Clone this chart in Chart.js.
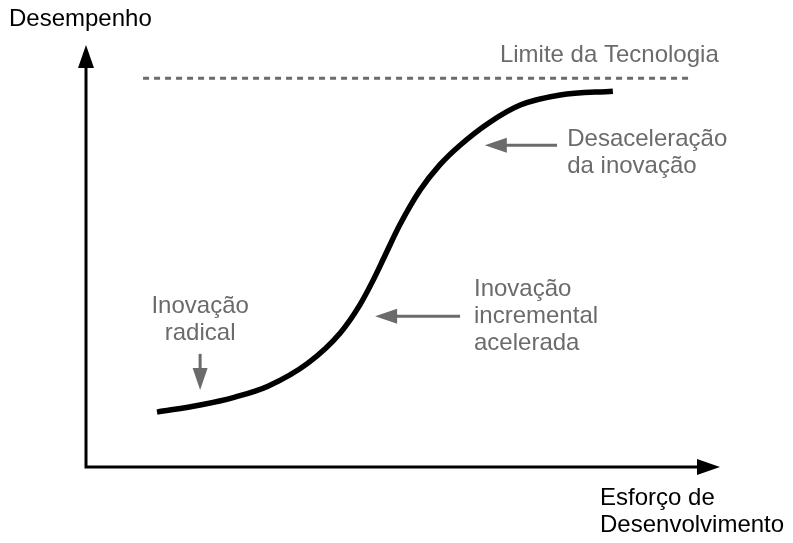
<!DOCTYPE html>
<html>
<head>
<meta charset="utf-8">
<script src="https://cdn.jsdelivr.net/npm/chart.js@4"></script>
<style>
  body { margin: 0; background: #fff; }
  canvas { display: block; }
</style>
</head>
<body>
<canvas id="sCurve" width="793" height="543"></canvas>
<script>
// S-curve (esforço x desempenho)
const curveX = [11.2, 18.0, 23.5, 28.7, 35.0, 40.1, 43.2, 45.3, 47.2, 49.5, 52.7, 55.8, 59.0, 63.7, 68.5, 74.8, 83.1];
const curveY = [13.1, 14.8, 16.7, 19.3, 24.8, 32.0, 38.7, 44.6, 50.6, 57.8, 66.1, 72.1, 76.8, 82.3, 86.4, 88.8, 89.7];

// limite da tecnologia (dashed)
const limitX = [9.0, 95.0];
const limitY = [92.8, 92.8];

const axisTitles = ['Desempenho', ['Esforço de', 'Desenvolvimento']];
const limitLabel = 'Limite da Tecnologia';
const noteLabels = [
    ['Inovação', 'radical'],
    ['Inovação', 'incremental', 'acelerada'],
    ['Desaceleração', 'da inovação']
];

const grey = '#6b6b6b';
const font = '24px "Liberation Sans", Arial, sans-serif';

function arrowHead(ctx, x, y, ang, len, half) {
    ctx.save();
    ctx.translate(x, y);
    ctx.rotate(ang);
    ctx.beginPath();
    ctx.moveTo(0, 0);
    ctx.lineTo(-len, -half);
    ctx.lineTo(-len, half);
    ctx.closePath();
    ctx.fill();
    ctx.restore();
}

const diagramPlugin = {
    id: 'diagram',
    afterDraw(chart) {
        const ctx = chart.ctx;
        const a = chart.chartArea;
        const sx = chart.scales.x, sy = chart.scales.y;
        const px = v => sx.getPixelForValue(v);
        const py = v => sy.getPixelForValue(v);

        ctx.save();
        // axes
        ctx.strokeStyle = '#000';
        ctx.fillStyle = '#000';
        ctx.lineWidth = 3;
        ctx.beginPath();
        ctx.moveTo(a.left, a.top + 20);
        ctx.lineTo(a.left, a.bottom);
        ctx.lineTo(a.right - 20, a.bottom);
        ctx.stroke();
        arrowHead(ctx, a.left, a.top - 3, -Math.PI / 2, 23, 8);
        arrowHead(ctx, a.right, a.bottom, 0, 23, 8);

        // axis titles
        ctx.font = font;
        ctx.textBaseline = 'middle';
        ctx.textAlign = 'left';
        ctx.fillStyle = '#000';
        ctx.fillText(axisTitles[0], 9, 19);
        axisTitles[1].forEach((t, i) => ctx.fillText(t, 600, a.bottom + 31 + i * 27));

        // grey notes
        ctx.fillStyle = grey;
        ctx.strokeStyle = grey;
        ctx.textAlign = 'right';
        ctx.fillText(limitLabel, px(99.8), py(98.3));

        ctx.textAlign = 'center';
        noteLabels[0].forEach((t, i) => ctx.fillText(t, px(18.0), py(38.4) + i * 27));
        ctx.textAlign = 'left';
        noteLabels[1].forEach((t, i) => ctx.fillText(t, px(61.2), py(42.5) + i * 27));
        noteLabels[2].forEach((t, i) => ctx.fillText(t, px(75.9), py(78.3) + i * 27));

        ctx.lineWidth = 3;
        // radical: down arrow
        ctx.beginPath();
        ctx.moveTo(px(18.0), py(27.0));
        ctx.lineTo(px(18.0), py(23.0));
        ctx.stroke();
        arrowHead(ctx, px(18.0), py(18.4), Math.PI / 2, 22, 7.5);
        // incremental: left arrow
        ctx.beginPath();
        ctx.moveTo(px(59.0), py(36.0));
        ctx.lineTo(px(48.5), py(36.0));
        ctx.stroke();
        arrowHead(ctx, px(45.6), py(36.0), Math.PI, 22, 7.5);
        // desaceleração: left arrow
        ctx.beginPath();
        ctx.moveTo(px(74.3), py(76.8));
        ctx.lineTo(px(65.8), py(76.8));
        ctx.stroke();
        arrowHead(ctx, px(62.9), py(76.8), Math.PI, 22, 7.5);
        ctx.restore();
    }
};

document.addEventListener('DOMContentLoaded', function () {
    const ctx = document.getElementById('sCurve').getContext('2d');

    const data = {
        datasets: [
            {
                label: 'Curva S',
                data: curveX.map((x, i) => ({ x: x, y: curveY[i] })),
                borderColor: '#000',
                borderWidth: 5.5,
                pointRadius: 0,
                cubicInterpolationMode: 'monotone',
                borderCapStyle: 'butt',
                fill: false
            },
            {
                label: limitLabel,
                data: limitX.map((x, i) => ({ x: x, y: limitY[i] })),
                borderColor: grey,
                borderWidth: 3,
                borderDash: [6, 5],
                pointRadius: 0,
                fill: false
            }
        ]
    };

    new Chart(ctx, {
        type: 'line',
        data: data,
        options: {
            responsive: false,
            animation: false,
            layout: { padding: { left: 86, right: 73, top: 48, bottom: 76 } },
            scales: {
                x: { type: 'linear', min: 0, max: 100, display: false },
                y: { type: 'linear', min: 0, max: 100, display: false }
            },
            plugins: {
                legend: { display: false },
                tooltip: { enabled: false }
            }
        },
        plugins: [diagramPlugin]
    });
});
</script>
</body>
</html>
